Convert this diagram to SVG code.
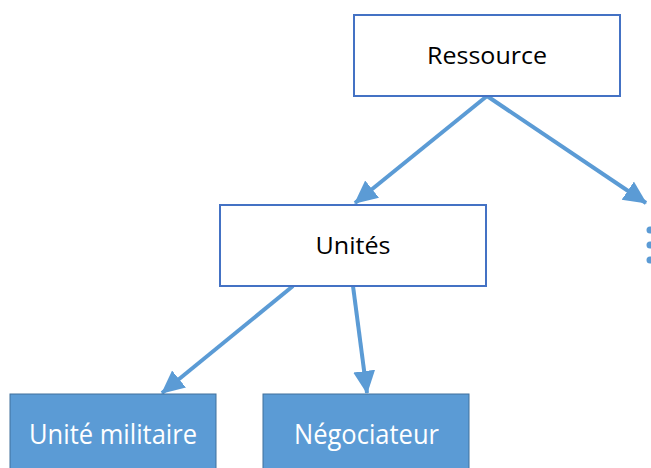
<svg xmlns="http://www.w3.org/2000/svg" width="651" height="468" viewBox="0 0 651 468">
<style>
.box{fill:#fff;stroke:#4472C4;stroke-width:2}
.fbox{fill:#5B9BD5;stroke:#41719C;stroke-width:1}
.t{font-family:"Open Sans","Liberation Sans",Arial,sans-serif;font-size:24px;text-anchor:middle;fill:#000}
.tw{font-family:"Open Sans","Liberation Sans",Arial,sans-serif;font-size:28px;text-anchor:middle;fill:#fff}
.c{stroke:#5B9BD5;stroke-width:4;fill:none}
</style>
<defs>
<marker id="ah" markerUnits="userSpaceOnUse" markerWidth="24" markerHeight="24" viewBox="0 0 24 24" refX="22" refY="12" orient="auto">
<path d="M0,1 L23,12 L0,23 Z" fill="#5B9BD5"/>
</marker>
</defs>
<rect width="651" height="468" fill="#fff"/>
<g id="connectors">
<line class="c" x1="487" y1="96" x2="355" y2="203" marker-end="url(#ah)"/>
<line class="c" x1="487" y1="96" x2="646" y2="203" marker-end="url(#ah)"/>
<line class="c" x1="293" y1="286" x2="162" y2="393" marker-end="url(#ah)"/>
<line class="c" x1="353" y1="286" x2="367" y2="393" marker-end="url(#ah)"/>
</g>
<g id="ressource">
<rect class="box" x="354" y="15" width="266" height="81"/>
<text class="t" x="487" y="64" textLength="120" lengthAdjust="spacingAndGlyphs">Ressource</text>
</g>
<g id="unites">
<rect class="box" x="220" y="205" width="266" height="81"/>
<text class="t" x="353" y="254" textLength="75" lengthAdjust="spacingAndGlyphs">Unités</text>
</g>
<g id="unite-militaire">
<rect class="fbox" x="10" y="394" width="206" height="80"/>
<text class="tw" x="113" y="444" textLength="168" lengthAdjust="spacingAndGlyphs">Unité militaire</text>
</g>
<g id="negociateur">
<rect class="fbox" x="263" y="394" width="206" height="80"/>
<text class="tw" x="366.5" y="444" textLength="145" lengthAdjust="spacingAndGlyphs">Négociateur</text>
</g>
<g id="ellipsis" fill="#5B9BD5">
<circle cx="650" cy="230" r="3.5"/>
<circle cx="650" cy="245" r="3.5"/>
<circle cx="650" cy="260" r="3.5"/>
</g>
</svg>
